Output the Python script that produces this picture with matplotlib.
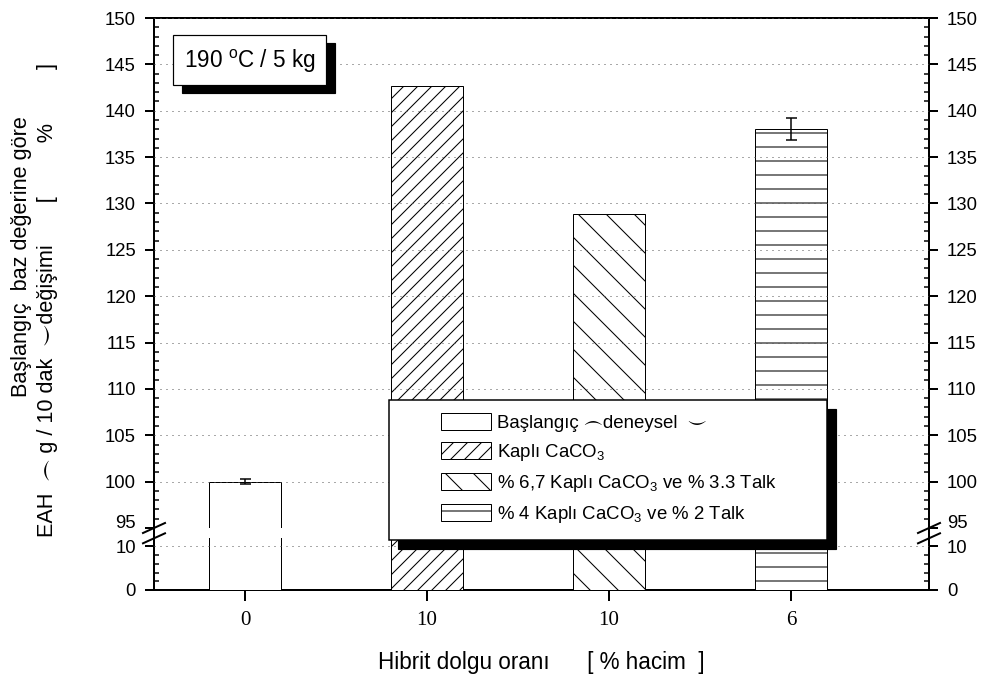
import numpy as np
import matplotlib
matplotlib.use('Agg')
import matplotlib.pyplot as plt
from matplotlib.patches import Rectangle
from matplotlib.lines import Line2D
from matplotlib.ticker import FixedLocator, MultipleLocator

DPI = 84
W, H = 983, 677

FAMILY = ['Liberation Sans', 'DejaVu Sans', 'STIXGeneral']
plt.rcParams['font.family'] = FAMILY
plt.rcParams['mathtext.fontset'] = 'custom'
plt.rcParams['mathtext.rm'] = 'Liberation Sans'
plt.rcParams['mathtext.it'] = 'Liberation Sans:italic'
plt.rcParams['hatch.linewidth'] = 0.9


def pt(px):
    return px * 72.0 / DPI


def fx(px):
    return px / W


def fy(py):
    return 1 - py / H


# ---------------- data ----------------
positions = [1, 2, 3, 4]
x_tick_labels = ['0', '10', '10', '6']
values = [100.0, 142.7, 128.9, 138.0]
errors = [0.3, 0.0, 0.0, 1.2]
series_labels = ['Başlangıç ⌢deneysel  ⌣',
                 'Kaplı CaCO$_3$',
                 '% 6,7 Kaplı CaCO$_3$ ve % 3.3 Talk',
                 '% 4 Kaplı CaCO$_3$ ve % 2 Talk']
hatches = ['', '//', '\\', '-']
upper_range = (95, 150)
lower_range = (0, 11.85)

# ---------------- layout (pixels) ----------------
L, R, T, B = 154, 929, 18, 590
Y_UP_BOT = 528
Y_LO_TOP = 538.3


def rect(l, t, r, b):
    return [fx(l), fy(b), fx(r) - fx(l), fy(t) - fy(b)]


fig = plt.figure(figsize=(W / DPI, H / DPI), dpi=DPI)
fig.patch.set_facecolor('white')

ax_frame = fig.add_axes(rect(L, T, R, B))
ax_frame.set_xticks([])
ax_frame.set_yticks([])
for s in ax_frame.spines.values():
    s.set_linewidth(pt(2))

ax_up = fig.add_axes(rect(L, T, R, Y_UP_BOT))
ax_lo = fig.add_axes(rect(L, Y_LO_TOP, R, B))

bars_by_ax = {}
for ax in (ax_up, ax_lo):
    ax.set_facecolor('none')
    for s in ax.spines.values():
        s.set_visible(False)
    ax.set_xlim(0.5, 4.758)
    bars = ax.bar(positions, values, width=0.4, color='white',
                  edgecolor='black', linewidth=pt(1), zorder=2)
    for p, h in zip(bars, hatches):
        p.set_hatch(h)
    bars_by_ax[ax] = bars
    ax.set_axisbelow(False)
    ax.yaxis.grid(True, which='major', color='#555555',
                  linestyle=(0, (1, 5)), linewidth=pt(1))
    ax.tick_params(axis='y', which='major', left=True, right=True,
                   labelleft=True, labelright=True, direction='out',
                   length=pt(9), width=pt(2), labelsize=pt(18.5), pad=pt(9))
    ax.tick_params(axis='y', which='minor', left=True, right=True,
                   direction='in', length=pt(5), width=pt(1.5))

# upper segment
ax_up.set_ylim(*upper_range)
ax_up.yaxis.set_major_locator(
    FixedLocator(np.arange(upper_range[0], upper_range[1] + 1, 5)))
ax_up.yaxis.set_minor_locator(MultipleLocator(1))
ax_up.tick_params(axis='x', which='both', bottom=False, top=False,
                  labelbottom=False)
for i, (xp, v, e) in enumerate(zip(positions, values, errors)):
    if e > 0:
        ax_up.errorbar(xp, v, yerr=e, fmt='none', ecolor='black',
                       elinewidth=pt(1.5), capsize=pt(5.5), capthick=pt(1.5),
                       zorder=3)
ticks = ax_up.yaxis.get_major_ticks()
if ticks:
    ticks[0].gridline.set_visible(False)
    ticks[0].label1.set_verticalalignment('baseline')
    ticks[0].label2.set_verticalalignment('baseline')

# lower segment
ax_lo.set_ylim(*lower_range)
ax_lo.yaxis.set_major_locator(MultipleLocator(10))
ax_lo.yaxis.set_minor_locator(MultipleLocator(2))
ax_lo.set_xticks(positions)
ax_lo.set_xticklabels(x_tick_labels, fontfamily='Liberation Serif',
                      fontsize=pt(21))
ax_lo.tick_params(axis='x', which='major', direction='out', length=pt(11),
                  width=pt(2), pad=pt(10), top=False)

# break marks
for xs in (L, R):
    for ys in (Y_UP_BOT, Y_LO_TOP):
        fig.add_artist(Line2D([fx(xs - 11), fx(xs + 11)],
                              [fy(ys + 5), fy(ys - 5)], color='black',
                              lw=pt(2), transform=fig.transFigure, zorder=3))

# legend frame with shadow
SH = 9
fig.add_artist(Rectangle((fx(389 + SH), fy(540 + SH)), fx(827) - fx(389),
                         fy(400) - fy(540), facecolor='black',
                         edgecolor='black', transform=fig.transFigure,
                         zorder=2))
fig.add_artist(Rectangle((fx(389), fy(540)), fx(827) - fx(389),
                         fy(400) - fy(540), facecolor='white',
                         edgecolor='black', lw=pt(1.5),
                         transform=fig.transFigure, zorder=2.1))

fs_leg = 18.6
fig.legend(handles=list(bars_by_ax[ax_up]), labels=series_labels,
           loc='upper left', bbox_to_anchor=(fx(441), fy(413)),
           frameon=False, fontsize=pt(fs_leg), handlelength=50 / fs_leg,
           handleheight=19 / fs_leg, handletextpad=6 / fs_leg,
           labelspacing=0.54, borderpad=0, borderaxespad=0)

# temperature box with shadow
fig.add_artist(Rectangle((fx(173 + 9), fy(85 + 8)), fx(326) - fx(173),
                         fy(35) - fy(85), facecolor='black',
                         edgecolor='black', transform=fig.transFigure,
                         zorder=2))
fig.add_artist(Rectangle((fx(173), fy(85)), fx(326) - fx(173),
                         fy(35) - fy(85), facecolor='white',
                         edgecolor='black', lw=pt(1.2),
                         transform=fig.transFigure, zorder=2.1))
fig.text(fx(249.5), fy(61), '190 $^{\\rm o}$C / 5 kg', ha='center',
         va='center', fontsize=pt(22.5), zorder=3)

# axis titles
fig.text(fx(22), fy(257), 'Başlangıç  baz değerine göre', rotation=90,
         ha='center', va='center', fontsize=pt(21.6))
fig.text(fx(48), fy(300),
         'EAH  ⌢ g / 10 dak  ⌣değişimi       [         %         ]',
         rotation=90, ha='center', va='center', fontsize=pt(21.6))
fig.text(fx(541), fy(662), 'Hibrit dolgu oranı      [ % hacim  ]',
         ha='center', va='center', fontsize=pt(22.5))

fig.savefig('out.png', dpi=DPI)
